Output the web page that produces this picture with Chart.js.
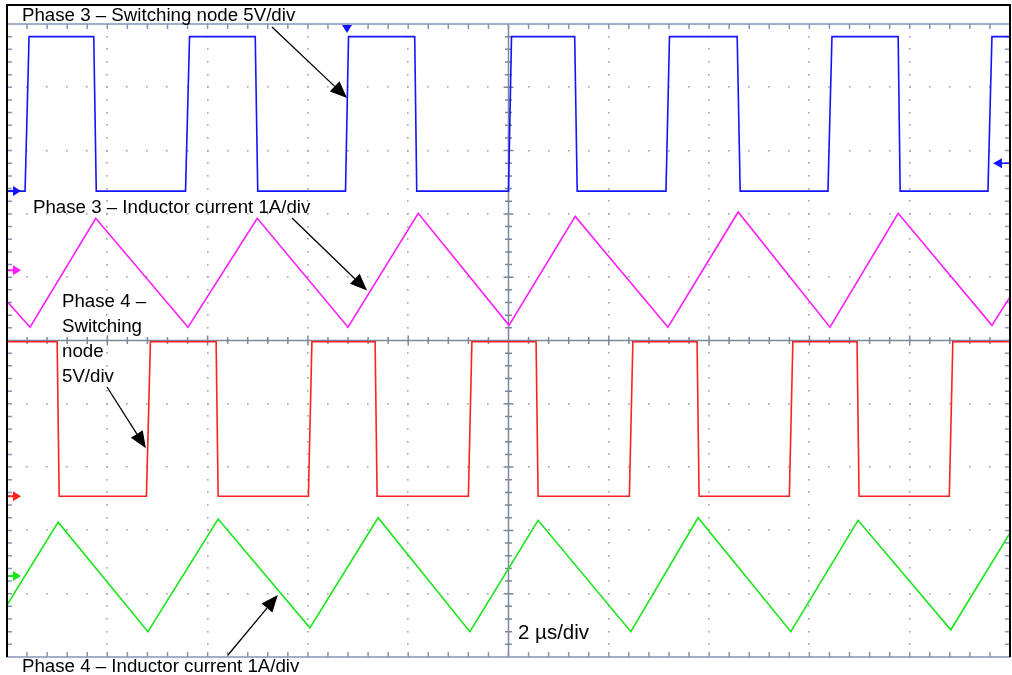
<!DOCTYPE html>
<html>
<head>
<meta charset="utf-8">
<script src="https://cdn.jsdelivr.net/npm/chart.js@4.4.0/dist/chart.umd.min.js"></script>
<style>
  html, body { margin: 0; padding: 0; background: #fff; }
  #wrap { position: relative; width: 1012px; height: 675px; }
</style>
</head>
<body>
<div id="wrap"><canvas id="scope"></canvas></div>
<script>
// Time base: 2 us/div, 10 divisions
const timeMin = 0;
const timeMax = 20;
const trigTime = 6.78;   // us
const trigLevel = 2.2;   // V, phase 3 switching node

// Phase 3 - switching node (V)
const sw3Time  = [0, 0.36, 0.44, 1.73, 1.78, 3.56, 3.64, 4.95, 5.00, 6.75, 6.81, 8.13, 8.17, 10.00,
                  10.06, 11.32, 11.37, 13.14, 13.21, 14.56, 14.62, 16.37, 16.45, 17.77, 17.81, 19.56, 19.64, 20];
const sw3Volts = [0, 0, 12.2, 12.2, 0, 0, 12.2, 12.2, 0, 0, 12.2, 12.2, 0, 0,
                  12.2, 12.2, 0, 0, 12.2, 12.2, 0, 0, 12.2, 12.2, 0, 0, 12.2, 12.2];

// Phase 3 - inductor current (A)
const il3Time = [0, 0.46, 1.77, 3.61, 4.99, 6.80, 8.20, 10.01, 11.33, 13.18, 14.58, 16.41, 17.77, 19.64, 20];
const il3Amps = [-0.49, -0.90, 0.82, -0.90, 0.82, -0.90, 0.90, -0.87, 0.85, -0.90, 0.92, -0.90, 0.90, -0.87, -0.42];

// Phase 4 - switching node (V)
const sw4Time  = [0, 1.00, 1.04, 2.78, 2.86, 4.17, 4.21, 6.01, 6.08, 7.34, 7.38, 9.20, 9.27,
                  10.55, 10.59, 12.41, 12.48, 13.76, 13.80, 15.60, 15.67, 16.95, 16.99, 18.79, 18.86, 20];
const sw4Volts = [12.2, 12.2, 0, 0, 12.2, 12.2, 0, 0, 12.2, 12.2, 0, 0, 12.2,
                  12.2, 0, 0, 12.2, 12.2, 0, 0, 12.2, 12.2, 0, 0, 12.2, 12.2];

// Phase 4 - inductor current (A)
const il4Time = [0, 1.02, 2.81, 4.21, 6.04, 7.40, 9.23, 10.59, 12.44, 13.78, 15.63, 16.97, 18.82, 20];
const il4Amps = [-0.46, 0.85, -0.88, 0.90, -0.82, 0.92, -0.88, 0.88, -0.88, 0.92, -0.88, 0.88, -0.85, 0.68];

// Channel setup: scale per division and ground marker position (div from bottom)
const channels = [
  { axis: 'yCh1', perDiv: 5, groundDiv: 7.36, color: '#1414ff', time: sw3Time, vals: sw3Volts },
  { axis: 'yCh2', perDiv: 1, groundDiv: 6.11, color: '#ff1aff', time: il3Time, vals: il3Amps },
  { axis: 'yCh3', perDiv: 5, groundDiv: 2.54, color: '#ff2020', time: sw4Time, vals: sw4Volts },
  { axis: 'yCh4', perDiv: 1, groundDiv: 1.28, color: '#19e619', time: il4Time, vals: il4Amps }
];

const toPoints = (t, v) => t.map((x, i) => ({ x: x, y: v[i] }));

const scales = {
  x: { type: 'linear', min: timeMin, max: timeMax, display: false },
  yDiv: { type: 'linear', min: 0, max: 10, display: false }
};
channels.forEach(c => {
  scales[c.axis] = {
    type: 'linear',
    display: false,
    min: -c.groundDiv * c.perDiv,
    max: (10 - c.groundDiv) * c.perDiv
  };
});

// Oscilloscope graticule + scope markers + annotations
const graticule = {
  id: 'graticule',
  beforeDatasetsDraw(chart) {
    const { ctx, chartArea: a } = chart;
    const xs = chart.scales.x, ys = chart.scales.yDiv;
    const dx = (timeMax - timeMin) / 10;
    ctx.save();

    // dotted major lines
    ctx.fillStyle = '#a3a3a3';
    for (let i = 1; i < 10; i++) {
      if (i === 5) continue;
      const px = xs.getPixelForValue(i * dx);
      for (let j = 1; j < 50; j++) {
        ctx.fillRect(Math.round(px) - 1, Math.round(ys.getPixelForValue(j * 0.2)) - 1, 1.6, 1.6);
      }
      const py = ys.getPixelForValue(i);
      for (let j = 1; j < 50; j++) {
        ctx.fillRect(Math.round(xs.getPixelForValue(j * dx / 5)) - 1, Math.round(py) - 1, 1.6, 1.6);
      }
    }

    // center cross with ticks
    const cx = xs.getPixelForValue(5 * dx), cy = ys.getPixelForValue(5);
    ctx.strokeStyle = '#7d879b';
    ctx.lineWidth = 1.5;
    ctx.beginPath();
    ctx.moveTo(cx, a.top); ctx.lineTo(cx, a.bottom);
    ctx.moveTo(a.left, cy); ctx.lineTo(a.right, cy);
    for (let j = 1; j < 50; j++) {
      const len = j % 5 === 0 ? 5 : 3.5;
      const py = ys.getPixelForValue(j * 0.2);
      ctx.moveTo(cx - len, py); ctx.lineTo(cx + len, py);
      const px = xs.getPixelForValue(j * dx / 5);
      ctx.moveTo(px, cy - len); ctx.lineTo(px, cy + len);
    }
    ctx.stroke();

    // border with inward ticks
    ctx.strokeStyle = '#8595b6';
    ctx.beginPath();
    ctx.rect(a.left, a.top, a.right - a.left, a.bottom - a.top);
    for (let j = 1; j < 50; j++) {
      const px = xs.getPixelForValue(j * dx / 5);
      ctx.moveTo(px, a.top); ctx.lineTo(px, a.top + 5);
      ctx.moveTo(px, a.bottom); ctx.lineTo(px, a.bottom - 5);
      const py = ys.getPixelForValue(j * 0.2);
      ctx.moveTo(a.left, py); ctx.lineTo(a.left + 5, py);
      ctx.moveTo(a.right, py); ctx.lineTo(a.right - 5, py);
    }
    ctx.stroke();
    ctx.restore();
  },

  afterDraw(chart) {
    const { ctx, chartArea: a } = chart;
    const xs = chart.scales.x;
    ctx.save();

    // ground markers on the left edge
    channels.forEach(c => {
      const py = chart.scales[c.axis].getPixelForValue(0);
      ctx.strokeStyle = c.color;
      ctx.fillStyle = c.color;
      ctx.lineWidth = 2;
      ctx.beginPath();
      ctx.moveTo(a.left + 1, py); ctx.lineTo(a.left + 8, py);
      ctx.stroke();
      ctx.beginPath();
      ctx.moveTo(a.left + 14, py); ctx.lineTo(a.left + 6, py - 5); ctx.lineTo(a.left + 6, py + 5);
      ctx.closePath(); ctx.fill();
    });

    // trigger level (right) and trigger position (top)
    const blue = channels[0];
    const ty = chart.scales[blue.axis].getPixelForValue(trigLevel);
    ctx.strokeStyle = blue.color; ctx.fillStyle = blue.color; ctx.lineWidth = 1.5;
    ctx.beginPath(); ctx.moveTo(a.right - 8, ty); ctx.lineTo(a.right, ty); ctx.stroke();
    ctx.beginPath();
    ctx.moveTo(a.right - 17, ty); ctx.lineTo(a.right - 8, ty - 5); ctx.lineTo(a.right - 8, ty + 5);
    ctx.closePath(); ctx.fill();
    const tx = xs.getPixelForValue(trigTime);
    ctx.beginPath();
    ctx.moveTo(tx - 5, a.top + 1); ctx.lineTo(tx + 5, a.top + 1); ctx.lineTo(tx, a.top + 9);
    ctx.closePath(); ctx.fill();

    // black frame
    ctx.fillStyle = '#000';
    ctx.fillRect(a.left - 1, 4, a.right - a.left + 2, 2);
    ctx.fillRect(a.left - 1, 4, 2, a.bottom - 4);
    ctx.fillRect(a.right - 1, 4, 2, a.bottom - 4);

    // annotations
    ctx.fillStyle = '#000';
    ctx.font = '18.7px "Liberation Sans", Arial, sans-serif';
    ctx.textBaseline = 'alphabetic';
    ctx.textAlign = 'left';
    ctx.fillText('Phase 3 \u2013 Switching node 5V/div', 22, 21);
    ctx.fillText('Phase 3 \u2013 Inductor current 1A/div', 33, 213);
    ctx.fillText('Phase 4 \u2013', 62, 307);
    ctx.fillText('Switching', 62, 332);
    ctx.fillText('node', 62, 357);
    ctx.fillText('5V/div', 62, 382);
    ctx.fillText('Phase 4 \u2013 Inductor current 1A/div', 22, 672);
    ctx.font = '20.5px "Liberation Sans", Arial, sans-serif';
    ctx.fillText('2 \u00b5s/div', 518, 639);

    const arrow = (x0, y0, axis, t, v) => {
      const x1 = xs.getPixelForValue(t);
      const y1 = chart.scales[axis].getPixelForValue(v);
      const ang = Math.atan2(y1 - y0, x1 - x0);
      const hl = 17, hw = 7;
      const bx = x1 - hl * Math.cos(ang), by = y1 - hl * Math.sin(ang);
      ctx.strokeStyle = '#000'; ctx.lineWidth = 1.3;
      ctx.beginPath(); ctx.moveTo(x0, y0); ctx.lineTo(bx, by); ctx.stroke();
      ctx.beginPath();
      ctx.moveTo(x1, y1);
      ctx.lineTo(bx + hw * Math.sin(ang), by - hw * Math.cos(ang));
      ctx.lineTo(bx - hw * Math.sin(ang), by + hw * Math.cos(ang));
      ctx.closePath(); ctx.fill();
    };
    arrow(272, 27, 'yCh1', 6.78, 7.35);
    arrow(292, 218, 'yCh2', 7.18, -0.32);
    arrow(107, 387, 'yCh3', 2.77, 3.79);
    arrow(228, 655, 'yCh4', 5.40, -0.30);

    ctx.restore();
  }
};

new Chart(document.getElementById('scope'), {
  type: 'line',
  data: {
    datasets: channels.map(c => ({
      data: toPoints(c.time, c.vals),
      yAxisID: c.axis,
      borderColor: c.color,
      borderWidth: 1.6,
      pointRadius: 0,
      tension: 0,
      fill: false
    }))
  },
  options: {
    responsive: true,
    maintainAspectRatio: false,
    animation: false,
    layout: { padding: { left: 7, right: 2, top: 24, bottom: 18 } },
    scales: scales,
    plugins: {
      legend: { display: false },
      tooltip: { enabled: false }
    }
  },
  plugins: [graticule]
});
</script>
</body>
</html>
